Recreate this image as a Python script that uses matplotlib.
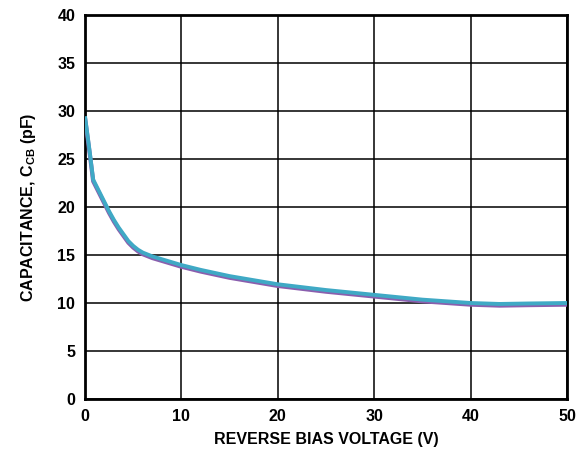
import numpy as np
import matplotlib
matplotlib.use("Agg")
import matplotlib.pyplot as plt

plt.rcParams['font.family'] = ['Liberation Sans', 'DejaVu Sans']
plt.rcParams['font.weight'] = 'bold'
plt.rcParams['mathtext.fontset'] = 'custom'
plt.rcParams['mathtext.rm'] = 'Liberation Sans:bold'
plt.rcParams['mathtext.it'] = 'Liberation Sans:bold'
plt.rcParams['mathtext.bf'] = 'Liberation Sans:bold'

# reverse bias voltage (V) vs capacitance (pF)
voltage = [0, 0.25, 0.5, 0.85, 1.0, 1.5, 2, 2.5, 3, 3.5, 4, 4.5, 5, 5.5, 6,
           6.5, 7, 8, 10, 12, 15, 20, 25, 30, 35, 40, 43, 46, 50]
capacitance = [29.4, 27.5, 25.6, 22.8, 22.5, 21.5, 20.5, 19.5, 18.6, 17.8,
               17.1, 16.4, 15.9, 15.5, 15.2, 15.0, 14.8, 14.5, 13.9, 13.4,
               12.75, 11.9, 11.3, 10.8, 10.3, 9.95, 9.85, 9.9, 9.95]

xticks = [0, 10, 20, 30, 40, 50]
yticks = [0, 5, 10, 15, 20, 25, 30, 35, 40]

fig = plt.figure(figsize=(5.87, 4.54), dpi=100)
ax = fig.add_axes([85 / 587, 1 - 399 / 454, (567 - 85) / 587, (399 - 15) / 454])

v = np.array(voltage)
c = np.array(capacitance)
ax.plot(v, c - 0.12, color='#8a5fae', lw=3.0, solid_capstyle='butt', zorder=3)
ax.plot(v, c + 0.05, color='#3fa9c5', lw=2.8, solid_capstyle='butt', zorder=4)

ax.set_xlim(0, 50)
ax.set_ylim(0, 40)
ax.set_xticks(xticks)
ax.set_yticks(yticks)
ax.tick_params(length=0, labelsize=11.5, pad=7)
for lab in ax.get_xticklabels() + ax.get_yticklabels():
    lab.set_fontweight('bold')
ax.grid(True, color='black', lw=1.1)
for s in ax.spines.values():
    s.set_linewidth(2)

ax.set_xlabel('REVERSE BIAS VOLTAGE (V)', fontsize=11.5, fontweight='bold', labelpad=6)
ax.set_ylabel('CAPACITANCE, C$_{\\mathrm{CB}}$ (pF)', fontsize=11.5, fontweight='bold', labelpad=14)

fig.savefig('out.png', dpi=100)
